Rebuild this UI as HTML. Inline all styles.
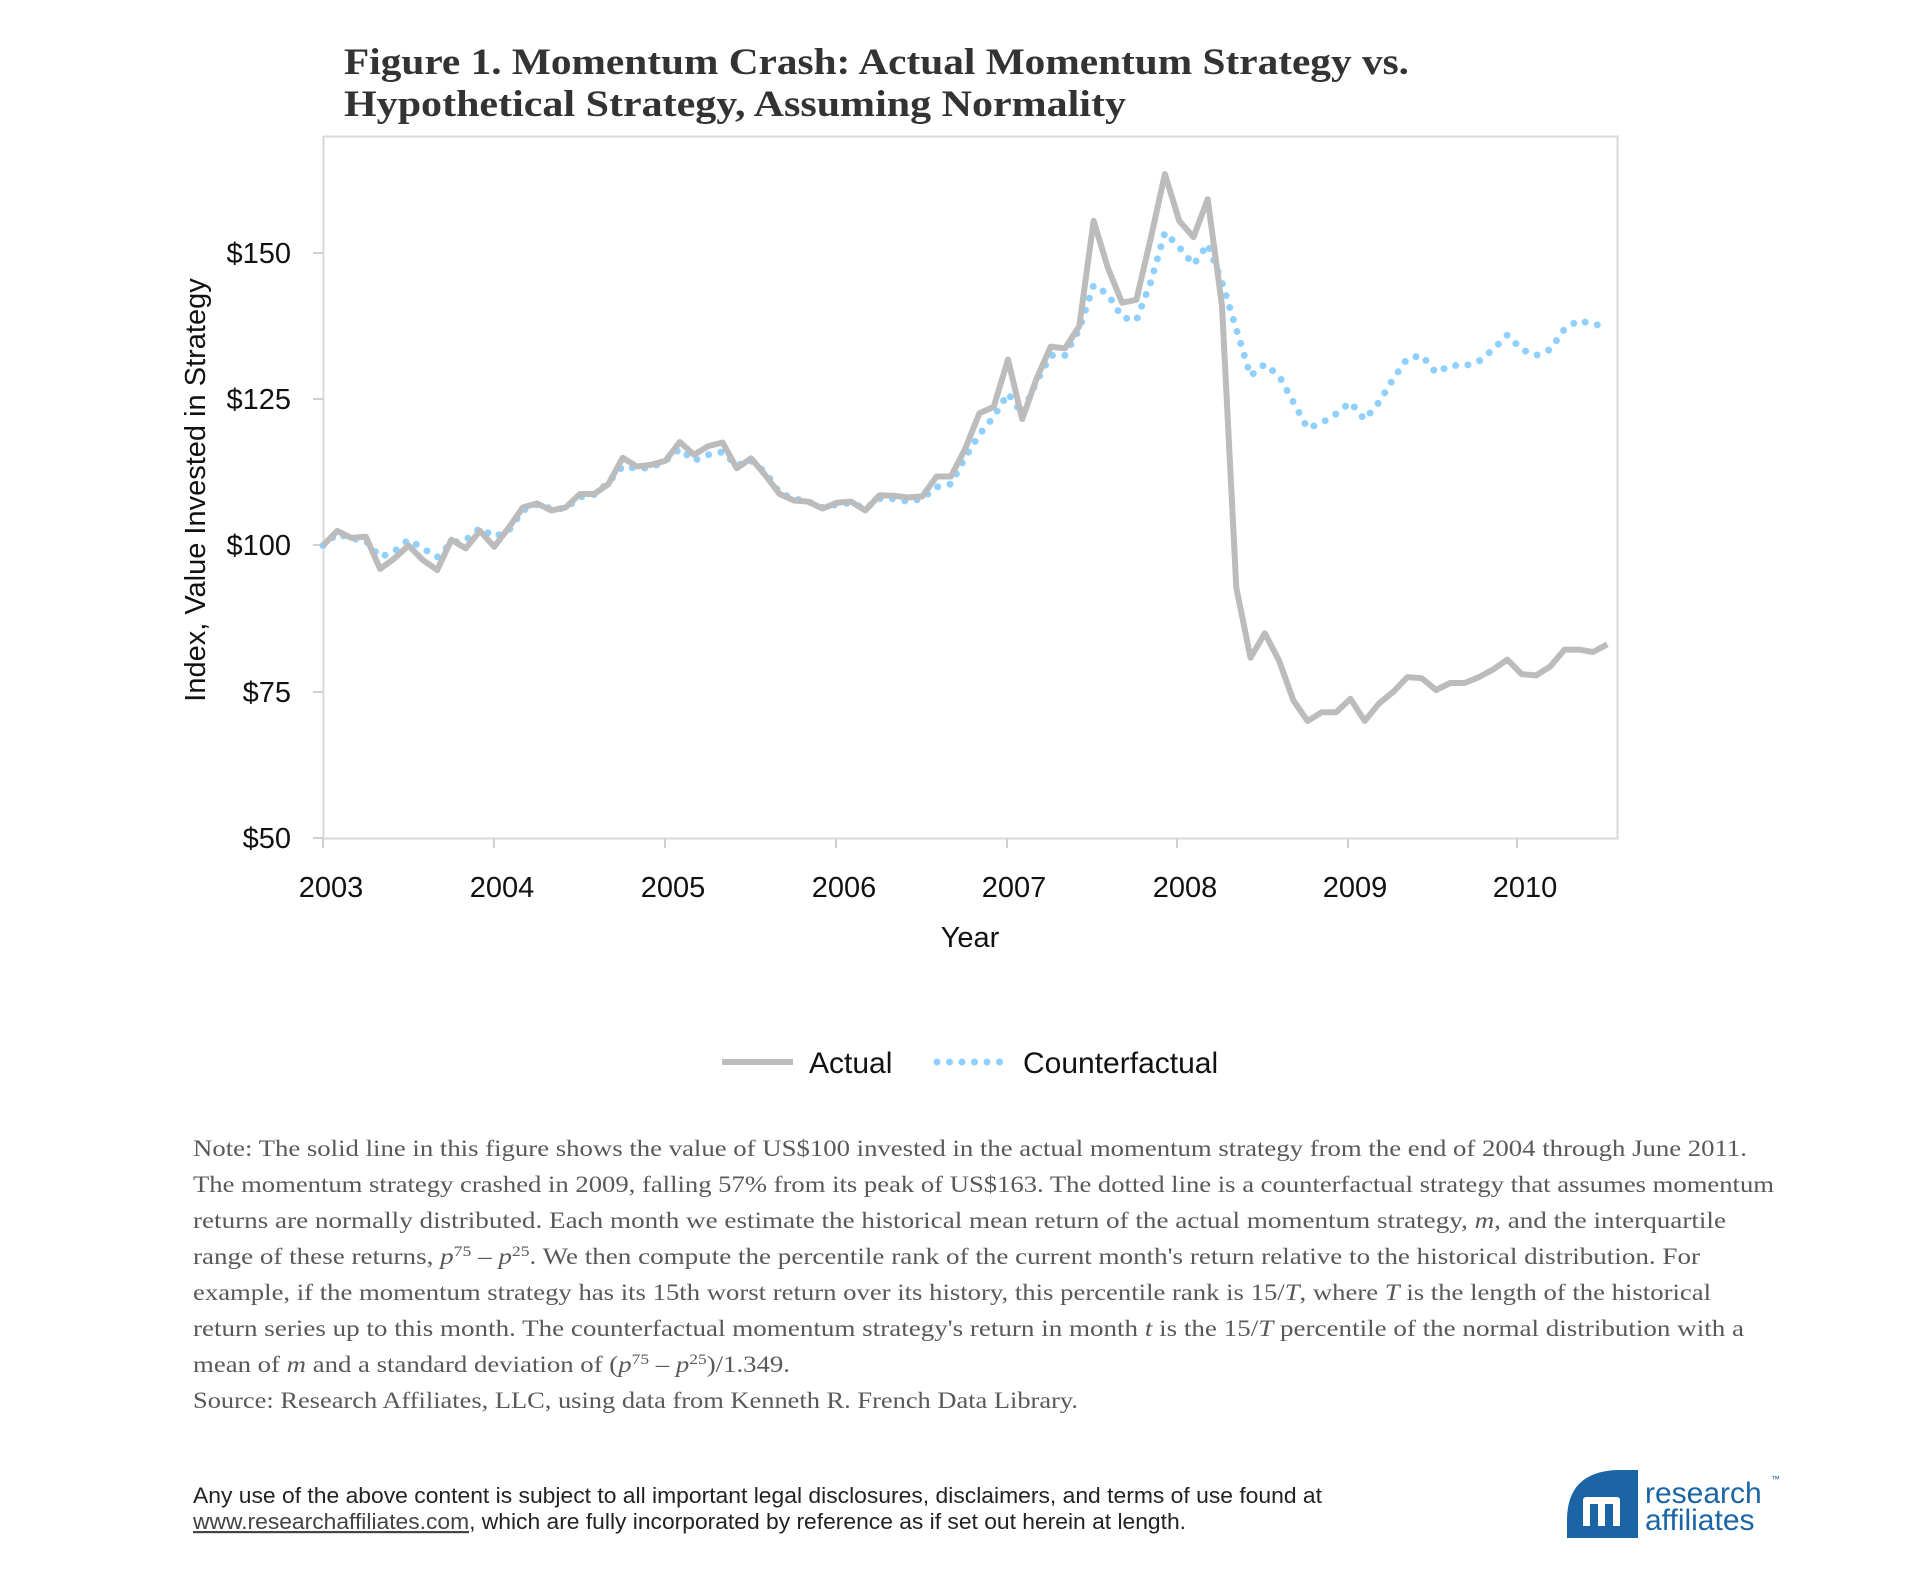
<!DOCTYPE html>
<html><head><meta charset="utf-8"><style>
html,body{margin:0;padding:0;background:#fff;}
svg{display:block;}
</style></head><body>
<svg width="1920" height="1570" viewBox="0 0 1920 1570" xmlns="http://www.w3.org/2000/svg">
<rect width="1920" height="1570" fill="#fff"/>
<text font-family="Liberation Serif, serif" font-weight="bold" font-size="37" fill="#333" x="344" y="74" textLength="1065" lengthAdjust="spacingAndGlyphs">Figure 1. Momentum Crash: Actual Momentum Strategy vs.</text>
<text font-family="Liberation Serif, serif" font-weight="bold" font-size="37" fill="#333" x="344" y="116" textLength="782" lengthAdjust="spacingAndGlyphs">Hypothetical Strategy, Assuming Normality</text>
<rect x="323.5" y="136.5" width="1294" height="702" fill="none" stroke="#d9d9d9" stroke-width="2"/>
<g stroke="#d0d0d0" stroke-width="2">
<line x1="323" y1="838" x2="323" y2="848"/><line x1="494" y1="838" x2="494" y2="848"/><line x1="665" y1="838" x2="665" y2="848"/><line x1="836" y1="838" x2="836" y2="848"/><line x1="1007" y1="838" x2="1007" y2="848"/><line x1="1177" y1="838" x2="1177" y2="848"/><line x1="1348" y1="838" x2="1348" y2="848"/><line x1="1517" y1="838" x2="1517" y2="848"/>
<line x1="313" y1="253" x2="323" y2="253"/><line x1="313" y1="399" x2="323" y2="399"/><line x1="313" y1="545" x2="323" y2="545"/><line x1="313" y1="692" x2="323" y2="692"/><line x1="313" y1="838" x2="323" y2="838"/>
</g>
<g font-family="Liberation Sans, sans-serif" font-size="29" fill="#111" text-anchor="end">
<text x="291" y="263">$150</text><text x="291" y="409">$125</text><text x="291" y="555">$100</text><text x="291" y="702">$75</text><text x="291" y="848">$50</text>
</g>
<g font-family="Liberation Sans, sans-serif" font-size="29" fill="#111" text-anchor="middle">
<text x="331" y="897">2003</text><text x="502" y="897">2004</text><text x="673" y="897">2005</text><text x="844" y="897">2006</text><text x="1014" y="897">2007</text><text x="1185" y="897">2008</text><text x="1355" y="897">2009</text><text x="1525" y="897">2010</text>
<text x="970" y="947">Year</text>
<text transform="translate(205,490) rotate(-90)">Index, Value Invested in Strategy</text>
</g>
<polyline id="cf" fill="none" stroke="#8fd0ff" stroke-width="7" stroke-linecap="round" stroke-dasharray="0 12.5" points=""/>
<polyline id="ac" fill="none" stroke="#bcbcbc" stroke-width="6" stroke-linejoin="round" points=""/>
<line x1="722" y1="1062" x2="793" y2="1062" stroke="#bcbcbc" stroke-width="6"/>
<line x1="937" y1="1062" x2="1001" y2="1062" stroke="#8fd0ff" stroke-width="7" stroke-linecap="round" stroke-dasharray="0 12.5"/>
<g font-family="Liberation Sans, sans-serif" font-size="30" fill="#111">
<text x="809" y="1073">Actual</text><text x="1023" y="1073">Counterfactual</text>
</g>
<g font-family="Liberation Serif, serif" font-size="23" fill="#595959">
<text x="193" y="1156" textLength="1554" lengthAdjust="spacingAndGlyphs">Note: The solid line in this figure shows the value of US$100 invested in the actual momentum strategy from the end of 2004 through June 2011.</text>
<text x="193" y="1192" textLength="1581" lengthAdjust="spacingAndGlyphs">The momentum strategy crashed in 2009, falling 57% from its peak of US$163. The dotted line is a counterfactual strategy that assumes momentum</text>
<text x="193" y="1228" textLength="1533" lengthAdjust="spacingAndGlyphs">returns are normally distributed. Each month we estimate the historical mean return of the actual momentum strategy, <tspan font-style="italic">m</tspan>, and the interquartile</text>
<text x="193" y="1264" textLength="1507" lengthAdjust="spacingAndGlyphs">range of these returns, <tspan font-style="italic">p</tspan><tspan font-size="15" dy="-8">75</tspan><tspan dy="8"> – </tspan><tspan font-style="italic">p</tspan><tspan font-size="15" dy="-8">25</tspan><tspan dy="8">. We then compute the percentile rank of the current month's return relative to the historical distribution. For</tspan></text>
<text x="193" y="1300" textLength="1518" lengthAdjust="spacingAndGlyphs">example, if the momentum strategy has its 15th worst return over its history, this percentile rank is 15/<tspan font-style="italic">T</tspan>, where <tspan font-style="italic">T</tspan> is the length of the historical</text>
<text x="193" y="1336" textLength="1551" lengthAdjust="spacingAndGlyphs">return series up to this month. The counterfactual momentum strategy's return in month <tspan font-style="italic">t</tspan> is the 15/<tspan font-style="italic">T</tspan> percentile of the normal distribution with a</text>
<text x="193" y="1372" textLength="597" lengthAdjust="spacingAndGlyphs">mean of <tspan font-style="italic">m</tspan> and a standard deviation of (<tspan font-style="italic">p</tspan><tspan font-size="15" dy="-8">75</tspan><tspan dy="8"> – </tspan><tspan font-style="italic">p</tspan><tspan font-size="15" dy="-8">25</tspan><tspan dy="8">)/1.349.</tspan></text>
<text x="193" y="1408" textLength="885" lengthAdjust="spacingAndGlyphs">Source:  Research Affiliates, LLC, using data from Kenneth R. French Data Library.</text>
</g>
<g font-family="Liberation Sans, sans-serif" font-size="22" fill="#222">
<text x="193" y="1503" textLength="1129" lengthAdjust="spacingAndGlyphs">Any use of the above content is subject to all important legal disclosures, disclaimers, and terms of use found at</text>
<text x="193" y="1529" textLength="993" lengthAdjust="spacingAndGlyphs"><tspan fill="#444" text-decoration="underline">www.researchaffiliates.com</tspan>, which are fully incorporated by reference as if set out herein at length.</text>
</g>
<path d="M1567 1538 L1567 1520 Q1567 1472 1617 1470 L1638 1470 L1638 1538 Z" fill="#1b64a6"/>
<g fill="#fff">
<rect x="1583" y="1500" width="7" height="26"/><rect x="1598" y="1500" width="7" height="26"/><rect x="1613" y="1500" width="7" height="26"/>
<rect x="1583" y="1497" width="37" height="7" rx="3"/>
</g>
<g font-family="Liberation Sans, sans-serif" font-size="30" fill="#1b64a6">
<text x="1645" y="1503">research</text><text x="1645" y="1530">affiliates</text>
<text x="1771" y="1482" font-size="9">™</text>
</g>
<script>
var A=[100,102.5,101.3,101.5,96,97.8,100,97.5,95.8,101,99.5,102.5,99.8,103,106.5,107.2,106,106.5,108.8,108.8,110.5,115,113.5,113.8,114.5,117.7,115.5,117,117.6,113.2,114.9,112,108.8,107.7,107.5,106.3,107.3,107.5,106,108.6,108.5,108.2,108.4,111.8,111.8,116.5,122.6,123.7,131.8,121.6,128.5,134,133.7,137.5,155.5,147.5,141.5,142,152.5,163.5,155.5,152.7,159.2,141,92.8,80.8,85,80.3,73.5,70,71.5,71.5,73.8,70,73,75,77.5,77.3,75.3,76.5,76.5,77.5,78.8,80.5,78,77.8,79.3,82.2,82.2,81.8,83.1];
var C=[100,102,101.2,100.8,98,99,101,99.5,98,100.5,100.9,103,101.5,102.5,106,107,106.3,106.3,108.3,108.7,110.8,113.5,113.2,113.3,114.5,116.5,114.5,115.5,116,113.7,114.5,112.5,109,108,107.5,106.5,107,107.3,106.3,108,108,107.5,108,110,110.5,115,119,122,126,122.5,128,132.5,132.5,137,144.5,143,139,138.5,145,153.5,151,148,151.5,145,137,129,131,129,124.5,120,121,122.5,124.5,121.5,124.5,128.5,132,132.5,129.5,130.8,130.7,131.5,133.5,136,133.5,132.5,133.5,137,138.5,137.8,137.5];
function pts(a){return a.map(function(v,i){return (323+i*14.27).toFixed(1)+","+(838-(v-50)*5.85).toFixed(1)}).join(" ");}
document.getElementById("ac").setAttribute("points",pts(A));
document.getElementById("cf").setAttribute("points",pts(C));
</script>
</svg>
</body></html>
